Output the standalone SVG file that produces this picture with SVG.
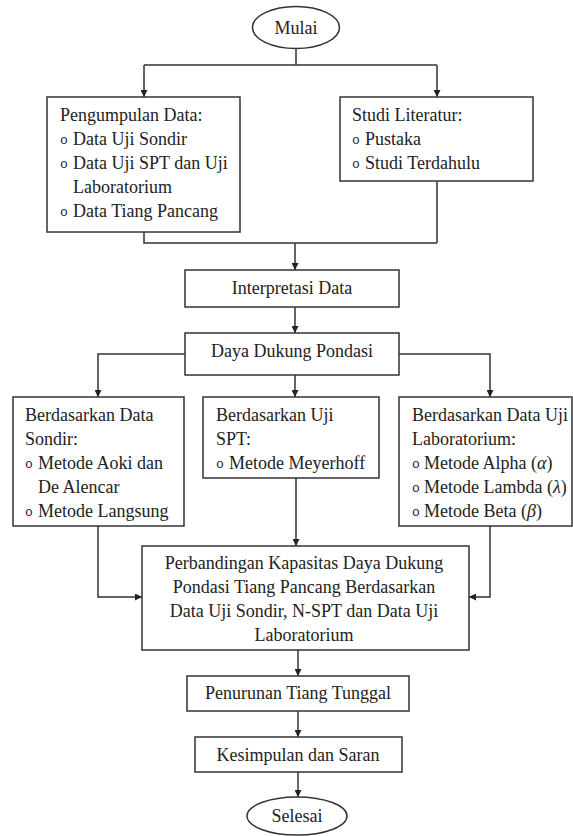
<svg xmlns="http://www.w3.org/2000/svg" width="573" height="836" viewBox="0 0 573 836">
<defs>
<style>
.box{fill:#fff;stroke:#333;stroke-width:1.5}
.t{font-family:"Liberation Serif","Times New Roman",serif;font-size:18px;fill:#222}
.c{text-anchor:middle}
.b{font-family:"Liberation Mono","Courier New",monospace;font-size:13px;fill:#222}
.ln{fill:none;stroke:#333;stroke-width:1.5}
</style>
<marker id="ah" viewBox="0 0 10 10" refX="10" refY="5" markerWidth="7" markerHeight="7" markerUnits="userSpaceOnUse" orient="auto">
<path d="M0,0 L10,5 L0,10 z" fill="#222"/>
</marker>
</defs>
<rect width="573" height="836" fill="#fff"/>
<g id="connectors">
<path class="ln" d="M296,48 V65 M144,65 H437"/>
<path class="ln" d="M144,65 V97" marker-end="url(#ah)"/>
<path class="ln" d="M437,65 V97" marker-end="url(#ah)"/>
<path class="ln" d="M144,232 V243 H437 M437,181 V243"/>
<path class="ln" d="M295,243 V270" marker-end="url(#ah)"/>
<path class="ln" d="M295,307 V333" marker-end="url(#ah)"/>
<path class="ln" d="M185,354 H98 V397" marker-end="url(#ah)"/>
<path class="ln" d="M399,354 H490 V397" marker-end="url(#ah)"/>
<path class="ln" d="M295,375 V397" marker-end="url(#ah)"/>
<path class="ln" d="M98,526 V597 H142" marker-end="url(#ah)"/>
<path class="ln" d="M490,526 V597 H469" marker-end="url(#ah)"/>
<path class="ln" d="M296,478 V546" marker-end="url(#ah)"/>
<path class="ln" d="M298,650 V676" marker-end="url(#ah)"/>
<path class="ln" d="M298,711 V737" marker-end="url(#ah)"/>
<path class="ln" d="M298,772 V797" marker-end="url(#ah)"/>
</g>
<g id="mulai">
<ellipse class="box" cx="296" cy="27.5" rx="43.5" ry="21"/>
<text class="t c" x="296" y="34">Mulai</text>
</g>
<g id="pengumpulan">
<rect class="box" x="47" y="97" width="193" height="135"/>
<text class="t" x="60" y="121">Pengumpulan Data:</text>
<text class="b" x="60" y="144">o</text><text class="t" x="73" y="145">Data Uji Sondir</text>
<text class="b" x="60" y="168">o</text><text class="t" x="73" y="169">Data Uji SPT dan Uji</text>
<text class="t" x="73" y="193">Laboratorium</text>
<text class="b" x="60" y="216">o</text><text class="t" x="73" y="217">Data Tiang Pancang</text>
</g>
<g id="studi">
<rect class="box" x="340" y="97" width="193" height="84"/>
<text class="t" x="352" y="121">Studi Literatur:</text>
<text class="b" x="352" y="144">o</text><text class="t" x="365" y="145">Pustaka</text>
<text class="b" x="352" y="168">o</text><text class="t" x="365" y="169">Studi Terdahulu</text>
</g>
<g id="interpretasi">
<rect class="box" x="185" y="270" width="214" height="37"/>
<text class="t c" x="292" y="294">Interpretasi Data</text>
</g>
<g id="daya">
<rect class="box" x="185" y="333" width="214" height="42"/>
<text class="t c" x="292" y="357">Daya Dukung Pondasi</text>
</g>
<g id="sondir">
<rect class="box" x="13" y="397" width="171" height="129"/>
<text class="t" x="25" y="421">Berdasarkan Data</text>
<text class="t" x="25" y="445">Sondir:</text>
<text class="b" x="25" y="468">o</text><text class="t" x="38" y="469">Metode Aoki dan</text>
<text class="t" x="38" y="493">De Alencar</text>
<text class="b" x="25" y="516">o</text><text class="t" x="38" y="517">Metode Langsung</text>
</g>
<g id="spt">
<rect class="box" x="203" y="397" width="176" height="81"/>
<text class="t" x="216" y="421">Berdasarkan Uji</text>
<text class="t" x="216" y="445">SPT:</text>
<text class="b" x="216" y="468">o</text><text class="t" x="229" y="469">Metode Meyerhoff</text>
</g>
<g id="lab">
<rect class="box" x="399" y="397" width="173" height="129"/>
<text class="t" x="412" y="421">Berdasarkan Data Uji</text>
<text class="t" x="412" y="445">Laboratorium:</text>
<text class="b" x="412" y="468">o</text><text class="t" x="424" y="469">Metode Alpha (<tspan font-style="italic">α</tspan>)</text>
<text class="b" x="412" y="492">o</text><text class="t" x="424" y="493">Metode Lambda (<tspan font-style="italic">λ</tspan>)</text>
<text class="b" x="412" y="516">o</text><text class="t" x="424" y="517">Metode Beta (<tspan font-style="italic">β</tspan>)</text>
</g>
<g id="perbandingan">
<rect class="box" x="142" y="546" width="327" height="104"/>
<text class="t c" x="304" y="569">Perbandingan Kapasitas Daya Dukung</text>
<text class="t c" x="304" y="593">Pondasi Tiang Pancang Berdasarkan</text>
<text class="t c" x="304" y="617">Data Uji Sondir, N-SPT dan Data Uji</text>
<text class="t c" x="304" y="641">Laboratorium</text>
</g>
<g id="penurunan">
<rect class="box" x="187" y="676" width="222" height="35"/>
<text class="t c" x="298" y="699">Penurunan Tiang Tunggal</text>
</g>
<g id="kesimpulan">
<rect class="box" x="195" y="737" width="207" height="35"/>
<text class="t c" x="298" y="761">Kesimpulan dan Saran</text>
</g>
<g id="selesai">
<ellipse class="box" cx="297" cy="816" rx="50" ry="19"/>
<text class="t c" x="297" y="822">Selesai</text>
</g>
</svg>
